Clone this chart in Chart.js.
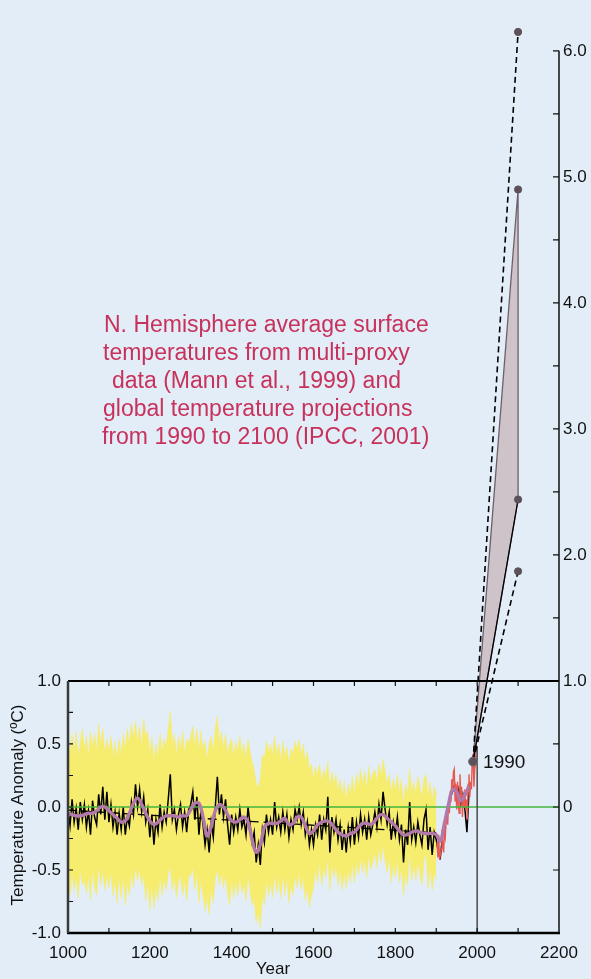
<!DOCTYPE html>
<html>
<head>
<meta charset="utf-8">
<script src="https://cdn.jsdelivr.net/npm/chart.js@4.4.1/dist/chart.umd.min.js"></script>
<style>
  html, body { margin: 0; padding: 0; background: #e2edf8; }
  #wrap { width: 591px; height: 979px; }
</style>
</head>
<body>
<div id="wrap"><canvas id="hockey" width="591" height="979"></canvas></div>
<script>
// ---- data ----
// multi-proxy reconstruction, 5-year samples 1000-1980
const proxyStart = 1000, proxyStep = 5;
const proxy = [
  -0.02, -0.15, 0.06, -0.12, -0.01, -0.18, 0.04, -0.10, 0.02, -0.16,
  -0.03, -0.22, 0.05, -0.08, -0.14, 0.10, -0.06, 0.16, -0.10, 0.12,
  -0.12, 0.02, -0.16, -0.04, -0.22, -0.05, -0.18, 0.00, -0.22, -0.08,
  -0.15, 0.04, -0.06, 0.18, 0.00, 0.14, -0.04, 0.08, -0.12, -0.02,
  -0.24, -0.06, -0.30, -0.10, -0.20, 0.02, -0.16, -0.04, -0.12, 0.06,
  0.26, -0.10, -0.02, -0.18, -0.06, 0.02, -0.16, -0.04, -0.20, -0.02,
  0.02, 0.12, -0.10, 0.08, -0.22, -0.02, -0.14, -0.30, -0.18, -0.36,
  -0.12, -0.24, 0.00, 0.24, -0.06, 0.10, -0.08, 0.06, -0.14, -0.30,
  -0.06, -0.20, -0.08, -0.18, -0.02, -0.16, -0.10, -0.22, 0.00, -0.14,
  -0.28, -0.20, -0.44, -0.30, -0.46, -0.18, -0.28, -0.06, -0.20, -0.10,
  -0.22, 0.04, -0.16, -0.08, -0.20, -0.04, -0.18, -0.06, -0.24, -0.10,
  -0.18, -0.02, -0.10, 0.00, -0.14, -0.04, -0.22, -0.12, -0.30, -0.18,
  -0.30, -0.14, -0.22, -0.06, -0.26, -0.10, -0.18, 0.08, -0.36, -0.08,
  -0.20, -0.10, -0.26, -0.14, -0.34, -0.18, -0.36, -0.16, -0.28, -0.08,
  -0.30, -0.12, -0.24, -0.06, -0.20, -0.10, -0.26, -0.08, -0.22, -0.14,
  -0.04, -0.16, 0.02, -0.10, 0.12, -0.02, -0.14, -0.04, -0.26, -0.12,
  -0.22, -0.08, -0.26, -0.14, -0.44, -0.18, -0.30, 0.04, -0.26, -0.16,
  -0.28, -0.12, -0.22, -0.30, -0.10, -0.02, -0.34, -0.16, -0.38, -0.20,
  -0.26, -0.36, -0.40, -0.24, -0.18, -0.06, -0.02, 0.08, 0.12, 0.18,
  0.06, 0.14, 0.02, 0.10, -0.02, -0.20, 0.12
];

// uncertainty envelope, 5-year samples 1000-1900
const bandHigh = [
  0.55, 0.42, 0.58, 0.44, 0.60, 0.40, 0.52, 0.62, 0.45, 0.56,
  0.40, 0.60, 0.48, 0.58, 0.44, 0.66, 0.50, 0.62, 0.42, 0.54,
  0.45, 0.56, 0.40, 0.52, 0.38, 0.54, 0.42, 0.58, 0.46, 0.62,
  0.50, 0.66, 0.55, 0.68, 0.52, 0.64, 0.48, 0.70, 0.56, 0.60,
  0.42, 0.55, 0.36, 0.50, 0.40, 0.58, 0.44, 0.54, 0.48, 0.62,
  0.76, 0.50, 0.58, 0.40, 0.56, 0.46, 0.60, 0.42, 0.54, 0.50,
  0.56, 0.64, 0.48, 0.62, 0.44, 0.60, 0.46, 0.52, 0.38, 0.50,
  0.56, 0.44, 0.62, 0.72, 0.50, 0.60, 0.46, 0.58, 0.42, 0.50,
  0.54, 0.40, 0.52, 0.44, 0.56, 0.42, 0.50, 0.38, 0.54, 0.44,
  0.36, 0.30, 0.18, 0.16, 0.22, 0.42, 0.38, 0.52, 0.44, 0.50,
  0.40, 0.56, 0.42, 0.50, 0.36, 0.52, 0.40, 0.48, 0.34, 0.46,
  0.42, 0.52, 0.46, 0.54, 0.40, 0.50, 0.36, 0.44, 0.30, 0.34,
  0.22, 0.32, 0.26, 0.34, 0.20, 0.30, 0.24, 0.36, 0.14, 0.28,
  0.18, 0.26, 0.12, 0.22, 0.08, 0.20, 0.06, 0.18, 0.10, 0.24,
  0.10, 0.26, 0.16, 0.30, 0.18, 0.28, 0.14, 0.32, 0.20, 0.26,
  0.30, 0.20, 0.34, 0.24, 0.38, 0.28, 0.18, 0.26, 0.12, 0.22,
  0.14, 0.26, 0.10, 0.22, 0.02, 0.18, 0.10, 0.30, 0.12, 0.20,
  0.10, 0.24, 0.16, 0.08, 0.22, 0.26, 0.08, 0.20, 0.04, 0.16,
  0.10
];
const bandLow = [
  -0.60, -0.70, -0.52, -0.66, -0.56, -0.72, -0.50, -0.62, -0.58, -0.68,
  -0.54, -0.74, -0.50, -0.64, -0.70, -0.46, -0.62, -0.50, -0.66, -0.54,
  -0.64, -0.52, -0.70, -0.58, -0.76, -0.56, -0.72, -0.54, -0.78, -0.60,
  -0.70, -0.52, -0.64, -0.48, -0.58, -0.50, -0.62, -0.54, -0.74, -0.60,
  -0.82, -0.62, -0.80, -0.64, -0.74, -0.54, -0.70, -0.58, -0.66, -0.52,
  -0.48, -0.66, -0.56, -0.72, -0.60, -0.54, -0.70, -0.58, -0.74, -0.56,
  -0.54, -0.48, -0.66, -0.52, -0.76, -0.58, -0.70, -0.82, -0.72, -0.85,
  -0.66, -0.76, -0.56, -0.50, -0.62, -0.52, -0.64, -0.54, -0.68, -0.78,
  -0.58, -0.72, -0.60, -0.70, -0.56, -0.68, -0.62, -0.74, -0.54, -0.66,
  -0.78, -0.72, -0.92, -0.84, -0.96, -0.70, -0.78, -0.58, -0.70, -0.60,
  -0.72, -0.52, -0.68, -0.58, -0.72, -0.54, -0.70, -0.56, -0.76, -0.62,
  -0.70, -0.54, -0.64, -0.52, -0.66, -0.56, -0.74, -0.64, -0.79, -0.70,
  -0.64, -0.50, -0.60, -0.44, -0.62, -0.48, -0.56, -0.40, -0.66, -0.46,
  -0.56, -0.46, -0.62, -0.50, -0.66, -0.52, -0.64, -0.50, -0.60, -0.44,
  -0.60, -0.44, -0.54, -0.40, -0.52, -0.42, -0.56, -0.38, -0.50, -0.44,
  -0.36, -0.48, -0.32, -0.44, -0.30, -0.42, -0.52, -0.40, -0.60, -0.46,
  -0.56, -0.42, -0.60, -0.48, -0.70, -0.52, -0.62, -0.36, -0.58, -0.46,
  -0.58, -0.44, -0.54, -0.62, -0.42, -0.36, -0.64, -0.48, -0.66, -0.52,
  -0.58
];

// smoothed curve, 10-year samples 1000-1980
const smoothStep = 10;
const smooth = [
  -0.05, -0.06, -0.07, -0.07, -0.06, -0.05, -0.05, -0.03, 0.00, 0.00,
  -0.03, -0.06, -0.09, -0.12, -0.11, -0.05, 0.03, 0.07, 0.02, -0.05,
  -0.11, -0.14, -0.12, -0.09, -0.07, -0.07, -0.07, -0.08, -0.07, -0.07,
  -0.02, 0.03, 0.03, -0.08, -0.23, -0.15, -0.03, 0.02, 0.00, -0.06,
  -0.11, -0.12, -0.10, -0.08, -0.12, -0.26, -0.36, -0.30, -0.16, -0.13,
  -0.13, -0.13, -0.11, -0.09, -0.14, -0.13, -0.08, -0.08, -0.15, -0.21,
  -0.19, -0.14, -0.12, -0.11, -0.12, -0.16, -0.20, -0.22, -0.23, -0.21,
  -0.20, -0.16, -0.13, -0.13, -0.14, -0.11, -0.07, -0.06, -0.09, -0.12,
  -0.15, -0.19, -0.22, -0.22, -0.20, -0.19, -0.20, -0.21, -0.21, -0.21,
  -0.22, -0.27, -0.13, 0.02, 0.14, 0.12, 0.05, 0.09, 0.17
];

// instrumental record, 2-year samples 1902-1998
const thermoStart = 1902, thermoStep = 2;
const thermo = [
  -0.28, -0.40, -0.22, -0.42, -0.38, -0.33, -0.18, -0.30, -0.36, -0.20,
  -0.24, -0.12, -0.05, -0.14, 0.02, -0.05, 0.08, 0.04, 0.22, 0.12,
  0.28, 0.30, 0.05, 0.18, -0.02, 0.20, 0.02, -0.05, 0.26, 0.08,
  0.16, -0.08, 0.10, 0.00, 0.14, -0.02, 0.06, -0.10, 0.18, 0.26,
  0.08, 0.20, 0.14, 0.38, 0.42, 0.16, 0.30, 0.34, 0.52
];

// long-term linear trend of the reconstruction
const trendYears = [1000, 1900];
const trendValues = [-0.025, -0.205];

// IPCC 2001 projections, 1990 -> 2100
const projYears = [1990, 2100];
const projStart = 0.36;
const projHighDashed = 6.15;
const projHighBand = 4.9;
const projLowBand = 2.44;
const projLowDashed = 1.87;

const markYear = 2000;
const noteLines = [
  'N. Hemisphere average surface',
  'temperatures from multi-proxy',
  'data (Mann et al., 1999) and',
  'global temperature projections',
  'from 1990 to 2100 (IPCC, 2001)'
];

// ---- helpers ----
function series(start, step, values) {
  return values.map((v, i) => ({ x: start + i * step, y: v }));
}
const FONT = '"Liberation Sans", Arial, Helvetica, sans-serif';
const BG = '#e2edf8';
const YELLOW = '#f6ec6e';

const background = {
  id: 'background',
  beforeDraw(chart) {
    const c = chart.ctx;
    c.save();
    c.fillStyle = BG;
    c.fillRect(0, 0, chart.width, chart.height);
    c.restore();
  }
};

// box, inward ticks, and the free text
const frame = {
  id: 'frame',
  afterDatasetsDraw(chart) {
    const c = chart.ctx;
    const x = chart.scales.x, y = chart.scales.y;
    const xl = x.getPixelForValue(1000), xr = x.getPixelForValue(2200);
    const yt = y.getPixelForValue(1), yb = y.getPixelForValue(-1);
    c.save();
    c.lineCap = 'butt';
    // ticks
    c.strokeStyle = '#111';
    c.lineWidth = 1.2;
    c.beginPath();
    for (let yr = 1100; yr < 2200; yr += 100) {
      const px = x.getPixelForValue(yr);
      c.moveTo(px, yb); c.lineTo(px, yb - 5);
      c.moveTo(px, yt); c.lineTo(px, yt + 5);
    }
    for (let v = -0.75; v < 1; v += 0.25) {
      const py = y.getPixelForValue(v);
      c.moveTo(xl, py); c.lineTo(xl + 5, py);
    }
    for (let v = -0.5; v <= 6.001; v += 0.5) {
      const py = y.getPixelForValue(v);
      c.moveTo(xr, py); c.lineTo(xr - 6, py);
    }
    c.stroke();
    // box
    c.strokeStyle = '#000';
    c.lineWidth = 2;
    c.beginPath(); c.moveTo(xl, yt); c.lineTo(xr, yt); c.stroke();
    c.lineWidth = 2.5;
    c.beginPath(); c.moveTo(xl - 1, yb); c.lineTo(xr + 1, yb); c.stroke();
    c.strokeStyle = '#3a3a3a';
    c.beginPath(); c.moveTo(xl, yt); c.lineTo(xl, yb); c.stroke();
    c.strokeStyle = '#111';
    c.lineWidth = 1.5;
    c.beginPath(); c.moveTo(xr, y.getPixelForValue(6)); c.lineTo(xr, yb); c.stroke();

    // texts
    c.fillStyle = '#c8315a';
    c.font = '23px ' + FONT;
    c.textAlign = 'left';
    c.textBaseline = 'alphabetic';
    const lefts = [104, 103, 112, 103, 102];
    noteLines.forEach((t, i) => c.fillText(t, lefts[i], 332 + i * 28));

    c.fillStyle = '#111';
    c.font = '19px ' + FONT;
    c.textBaseline = 'middle';
    c.fillText('1990', x.getPixelForValue(projYears[0]) + 10, y.getPixelForValue(projStart) + 1);

    c.font = '17px ' + FONT;
    c.textAlign = 'center';
    c.fillText('Year', 273, 969);
    c.translate(18, 805);
    c.rotate(-Math.PI / 2);
    c.fillText('Temperature Anomaly (\u00BAC)', 0, 0);
    c.restore();
  }
};

const tickFont = { family: FONT, size: 17 };

new Chart(document.getElementById('hockey'), {
  type: 'line',
  data: {
    datasets: [
      { data: series(proxyStart, proxyStep, bandLow), borderColor: YELLOW, borderWidth: 0.6,
        pointRadius: 0, fill: false, order: 20 },
      { data: series(proxyStart, proxyStep, bandHigh), borderColor: YELLOW, borderWidth: 0.6,
        backgroundColor: YELLOW, pointRadius: 0, fill: '-1', order: 19 },
      { data: series(proxyStart, proxyStep, proxy), borderColor: '#000', borderWidth: 1.5,
        pointRadius: 0, fill: false, order: 18 },
      { data: series(thermoStart, thermoStep, thermo), borderColor: '#e8584f', borderWidth: 1.4,
        pointRadius: 0, fill: false, order: 17 },
      { data: trendYears.map((yr, i) => ({ x: yr, y: trendValues[i] })), borderColor: '#000',
        borderWidth: 1.3, borderDash: [9, 5], pointRadius: 0, fill: false, order: 16 },
      { data: [{ x: 1000, y: 0 }, { x: 2200, y: 0 }], borderColor: '#44b53c', borderWidth: 1.6,
        pointRadius: 0, fill: false, order: 15 },
      { data: series(proxyStart, smoothStep, smooth), borderColor: '#b278aa', borderWidth: 3.4,
        tension: 0.4, pointRadius: 0, fill: false, order: 14 },
      { data: [{ x: markYear, y: 0.48 }, { x: markYear, y: -1 }], borderColor: '#4a4a4a',
        borderWidth: 1.5, pointRadius: 0, fill: false, order: 13 },
      { data: [
          { x: projYears[0], y: projStart }, { x: projYears[1], y: projHighBand },
          { x: projYears[1], y: projLowBand }, { x: projYears[0], y: projStart }
        ],
        borderColor: '#6e6069', borderWidth: 1.3, backgroundColor: '#cdc3c8',
        pointRadius: 0, fill: 'shape', order: 12 },
      { data: [{ x: projYears[0], y: projStart }, { x: projYears[1], y: projLowBand }],
        borderColor: '#000', borderWidth: 1.3, pointRadius: 0, fill: false, order: 11 },
      { data: [{ x: projYears[0], y: projStart }, { x: projYears[1], y: projHighDashed }],
        borderColor: '#000', borderWidth: 1.6, borderDash: [6, 4], pointRadius: 0, fill: false, order: 10 },
      { data: [{ x: projYears[0], y: projStart }, { x: projYears[1], y: projLowDashed }],
        borderColor: '#000', borderWidth: 1.6, borderDash: [6, 4], pointRadius: 0, fill: false, order: 9 },
      { data: [
          { x: projYears[1], y: projHighDashed }, { x: projYears[1], y: projHighBand },
          { x: projYears[1], y: projLowBand }, { x: projYears[1], y: projLowDashed }
        ],
        showLine: false, pointRadius: 3.6, pointBackgroundColor: '#5d5159',
        pointBorderColor: '#5d5159', order: 2 },
      { data: [{ x: projYears[0], y: projStart }], showLine: false, pointRadius: 4.5,
        pointBackgroundColor: '#5d5159', pointBorderColor: '#7a6e76', pointBorderWidth: 1, order: 1 }
    ]
  },
  options: {
    responsive: false,
    animation: false,
    events: [],
    layout: { padding: 0 },
    plugins: { legend: { display: false }, tooltip: { enabled: false } },
    scales: {
      x: {
        type: 'linear', position: 'bottom', min: 1000, max: 2200,
        grid: { display: false }, border: { display: false },
        ticks: { stepSize: 200, autoSkip: false, maxRotation: 0, padding: 2,
                 color: '#111', font: tickFont, callback: v => String(v) },
        afterFit: s => { s.height = 46; s.paddingLeft = 0; s.paddingRight = 0; }
      },
      y: {
        type: 'linear', position: 'left', min: -1, max: 6.36,
        grid: { display: false }, border: { display: false },
        ticks: { stepSize: 0.5, includeBounds: false, autoSkip: false, padding: -1,
                 color: '#111', font: tickFont,
                 callback: v => (v <= 1.001 ? v.toFixed(1) : '') },
        afterFit: s => { s.width = 68; s.paddingTop = 0; s.paddingBottom = 0; }
      },
      y2: {
        type: 'linear', position: 'right', min: -1, max: 6.36,
        grid: { display: false }, border: { display: false },
        ticks: { stepSize: 0.5, includeBounds: false, autoSkip: false, padding: -4,
                 color: '#111', font: tickFont,
                 callback: v => {
                   if (v < -0.001 || Math.abs(v - Math.round(v)) > 0.001) return '';
                   return Math.round(v) === 0 ? '0' : v.toFixed(1);
                 } },
        afterFit: s => { s.width = 32; s.paddingTop = 0; s.paddingBottom = 0; }
      }
    }
  },
  plugins: [background, frame]
});
</script>
</body>
</html>
